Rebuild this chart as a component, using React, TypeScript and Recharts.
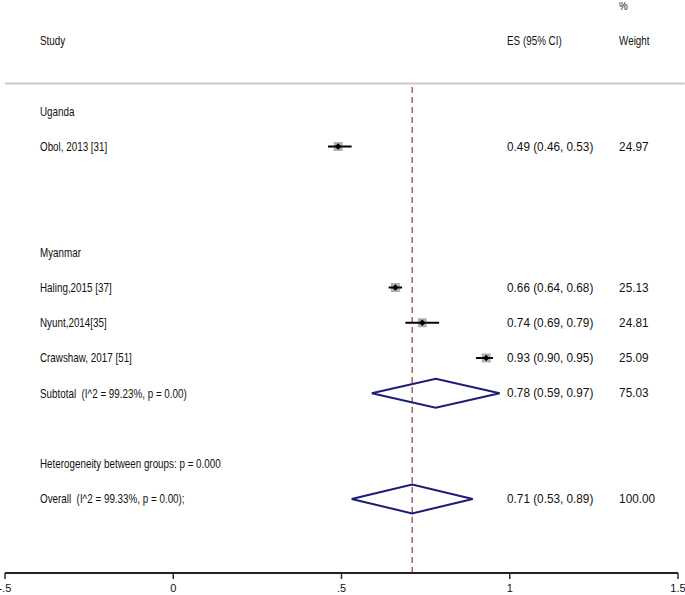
import { ComposedChart, XAxis, YAxis, Scatter, Line, ReferenceLine, ErrorBar } from 'recharts';

const xTicks = [-0.5, 0, 0.5, 1, 1.5];
const xTickLabels = ['-.5', '0', '.5', '1', '1.5'];

const rowLabels = [
  'Uganda',
  'Obol, 2013 [31]',
  '',
  '',
  'Myanmar',
  'Haling,2015 [37]',
  'Nyunt,2014[35]',
  'Crawshaw, 2017 [51]',
  'Subtotal  (I^2 = 99.23%, p = 0.00)',
  '',
  'Heterogeneity between groups: p = 0.000',
  'Overall  (I^2 = 99.33%, p = 0.00);',
];

const studyNames = ['Obol, 2013 [31]', 'Haling,2015 [37]', 'Nyunt,2014[35]', 'Crawshaw, 2017 [51]'];
const studyES = [0.49, 0.66, 0.74, 0.93];
const studyLow = [0.46, 0.64, 0.69, 0.9];
const studyHigh = [0.53, 0.68, 0.79, 0.95];
const studyWeight = [24.97, 25.13, 24.81, 25.09];

const pooledNames = ['Subtotal  (I^2 = 99.23%, p = 0.00)', 'Overall  (I^2 = 99.33%, p = 0.00);'];
const pooledES = [0.78, 0.71];
const pooledLow = [0.59, 0.53];
const pooledHigh = [0.97, 0.89];
const pooledWeight = [75.03, 100.0];

// column anchors, in x units of the plot
const COL_STUDY = -0.396;
const COL_ES = 0.992;
const COL_WT = 1.325;
const HEADER_ROW = -2;
const PCT_ROW = -3;
const RULE_ROW = -0.79;

const FONT = "'Liberation Sans', Arial, sans-serif";
const NARROW = 0.82; // no Arial Narrow installed, squeeze the word labels
const DIAMOND_H = 0.41;

const fmtCI = (es: number, lo: number, hi: number) =>
  `${es.toFixed(2)} (${lo.toFixed(2)}, ${hi.toFixed(2)})`;

const rowOf = (name: string) => rowLabels.indexOf(name);

const studies = studyNames.map((n, i) => ({
  x: studyES[i],
  y: rowOf(n),
  err: [studyES[i] - studyLow[i], studyHigh[i] - studyES[i]],
  w: studyWeight[i],
}));

const textRows = [
  ...rowLabels.map((t, i) => ({ x: COL_STUDY, y: i, t, num: false })).filter((d) => d.t),
  ...studyNames.map((n, i) => ({ x: COL_ES, y: rowOf(n), t: fmtCI(studyES[i], studyLow[i], studyHigh[i]), num: true })),
  ...studyNames.map((n, i) => ({ x: COL_WT, y: rowOf(n), t: studyWeight[i].toFixed(2), num: true })),
  ...pooledNames.map((n, i) => ({ x: COL_ES, y: rowOf(n), t: fmtCI(pooledES[i], pooledLow[i], pooledHigh[i]), num: true })),
  ...pooledNames.map((n, i) => ({ x: COL_WT, y: rowOf(n), t: pooledWeight[i].toFixed(2), num: true })),
  { x: COL_STUDY, y: HEADER_ROW, t: 'Study', num: false },
  { x: COL_ES, y: HEADER_ROW, t: 'ES (95% CI)', num: false },
  { x: COL_WT, y: HEADER_ROW, t: 'Weight', num: false },
  { x: COL_WT, y: PCT_ROW, t: '%', num: false },
];

const diamonds = pooledNames.map((n, i) => {
  const r = rowOf(n);
  return [
    { x: pooledLow[i], y: r },
    { x: pooledES[i], y: r - DIAMOND_H },
    { x: pooledHigh[i], y: r },
    { x: pooledES[i], y: r + DIAMOND_H },
    { x: pooledLow[i], y: r },
  ];
});

const overallES = pooledES[1];

const TextShape = (props: any) => (
  <text
    transform={`translate(${props.cx},${props.cy}) scale(${props.payload.num ? 0.98 : NARROW},1)`}
    dominantBaseline="central"
    fontFamily={FONT}
    fontSize={12}
    fill="#111"
    style={{ whiteSpace: 'pre' }}
  >
    {props.payload.t}
  </text>
);

const AxisTick = (props: any) => {
  const { x, y, payload } = props;
  return (
    <text
      transform={`translate(${x},${y + 11})`}
      textAnchor="middle"
      fontFamily={FONT}
      fontSize={11}
      fill="#111"
    >
      {xTickLabels[xTicks.indexOf(payload.value)]}
    </text>
  );
};

const BoxShape = (props: any) => {
  const { cx, cy, payload } = props;
  const s = Math.sqrt(payload.w) * 1.8;
  return (
    <g>
      <rect x={cx - s / 2} y={cy - s / 2} width={s} height={s} fill="#b0b0b0" />
      <line x1={cx - s / 2} x2={cx + s / 2} y1={cy} y2={cy} stroke="#000" strokeWidth={2} />
      <path d={`M${cx - 3.2},${cy} L${cx},${cy - 3.2} L${cx + 3.2},${cy} L${cx},${cy + 3.2} Z`} fill="#000" />
    </g>
  );
};

export default function App() {
  return (
    <div style={{ position: 'absolute', left: 0, top: 0, background: '#fff' }}>
      <ComposedChart width={685} height={595} margin={{ top: 2, right: 7, bottom: 0, left: 5 }}>
        <XAxis
          type="number"
          dataKey="x"
          domain={[-0.5, 1.5]}
          ticks={xTicks}
          allowDataOverflow
          height={22}
          axisLine={{ stroke: '#222', strokeWidth: 2 }}
          tickLine={{ stroke: '#222', strokeWidth: 1.4 }}
          tickSize={6}
          tick={<AxisTick />}
          interval={0}
        />
        <YAxis type="number" dataKey="y" domain={[-3.1, 13.1]} reversed hide allowDataOverflow />
        <ReferenceLine
          segment={[{ x: -0.5, y: RULE_ROW }, { x: 1.52, y: RULE_ROW }]}
          stroke="#c8c8c8"
          strokeWidth={2}
          ifOverflow="visible"
        />
        <ReferenceLine
          segment={[{ x: overallES, y: RULE_ROW + 0.1 }, { x: overallES, y: 13.1 }]}
          stroke="#8e3a48"
          strokeWidth={1.2}
          strokeDasharray="6 4"
          ifOverflow="visible"
        />
        {diamonds.map((d, i) => (
          <Line
            key={i}
            data={d}
            dataKey="y"
            type="linear"
            stroke="#1c1c78"
            strokeWidth={2}
            dot={false}
            activeDot={false}
            isAnimationActive={false}
          />
        ))}
        <Scatter data={studies} shape={BoxShape} isAnimationActive={false}>
          <ErrorBar dataKey="err" direction="x" width={0} stroke="#000" strokeWidth={2} />
        </Scatter>
        <Scatter data={textRows} shape={TextShape} isAnimationActive={false} />
      </ComposedChart>
    </div>
  );
}
